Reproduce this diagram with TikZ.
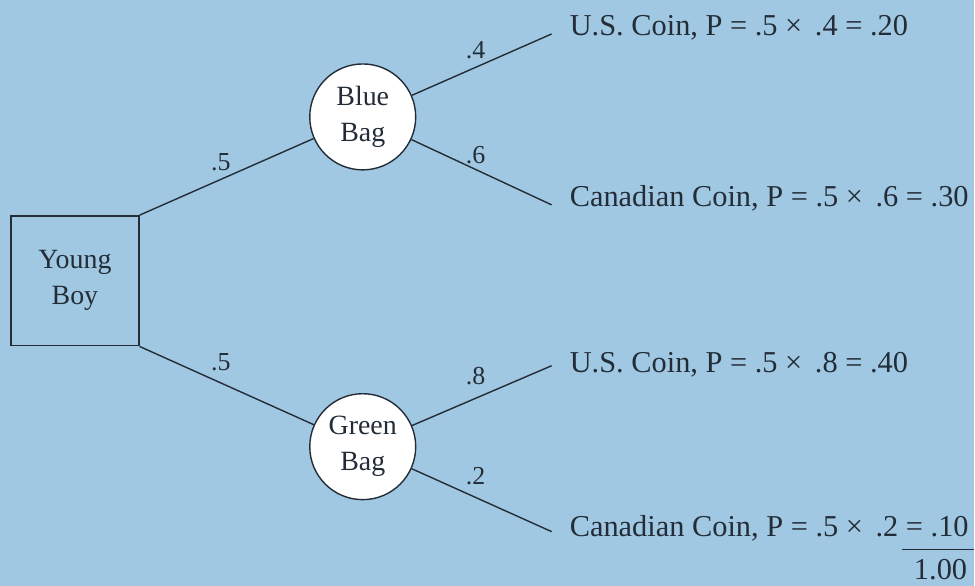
\documentclass[tikz,border=0pt]{standalone}
\usepackage{fontspec}
\setmainfont{Liberation Serif}
\usepackage{xcolor}
\usetikzlibrary{positioning,shapes}
\definecolor{bgblue}{RGB}{161,200,226}
\definecolor{inkgray}{RGB}{35,45,55}

\begin{document}
\begin{tikzpicture}[x=1bp,y=-1bp,
  every node/.style={inner sep=0pt,text=inkgray,font=\fontsize{28}{36}\selectfont},
  branch/.style={draw=inkgray,line width=1.4bp},
  bag/.style={circle,draw=inkgray,fill=white,line width=1.4bp,minimum size=106bp,align=center},
  start/.style={rectangle,draw=inkgray,line width=1.4bp,minimum width=128bp,minimum height=130bp,align=center},
  prob/.style={font=\fontsize{26}{30}\selectfont},
  outcome/.style={anchor=base west,font=\fontsize{30.5}{36}\selectfont}]
\fill [bgblue] (0,0) rectangle (975,586);
% decision box and the two bags
\node [start] (boy) at (75,281) {Young\\Boy};
\node [bag] (blue) at (363,117) {Blue\\Bag};
\node [bag] (green) at (363,447) {Green\\Bag};
% free ends of the outcome branches
\coordinate (e1) at (552,34);
\coordinate (e2) at (552,205);
\coordinate (e3) at (552,366);
\coordinate (e4) at (552,532);
\draw [branch] (boy.north east) -- (blue);
\draw [branch] (boy.south east) -- (green);
\draw [branch] (blue) -- (e1);
\draw [branch] (blue) -- (e2);
\draw [branch] (green) -- (e3);
\draw [branch] (green) -- (e4);
% branch probabilities
\node [prob] (pb) at (221,162) {.5};
\node [prob] (pg) at (221,362) {.5};
\node [prob] (p1) at (476,50) {.4};
\node [prob] (p2) at (476,155) {.6};
\node [prob] (p3) at (476,376) {.8};
\node [prob] (p4) at (476,476) {.2};
% outcomes
\node [outcome] (o1) at (570,36) {U.S. Coin, P = .5 × \,.4 = .20};
\node [outcome] (o2) at (570,207) {Canadian Coin, P = .5 × \,.6 = .30};
\node [outcome] (o3) at (570,373) {U.S. Coin, P = .5 × \,.8 = .40};
\node [outcome] (o4) at (570,537) {Canadian Coin, P = .5 × \,.2 = .10};
\node [outcome,anchor=base east] (total) at (968,580) {1.00};
\draw [branch] (903,550) -- (975,550);
\end{tikzpicture}
\end{document}
